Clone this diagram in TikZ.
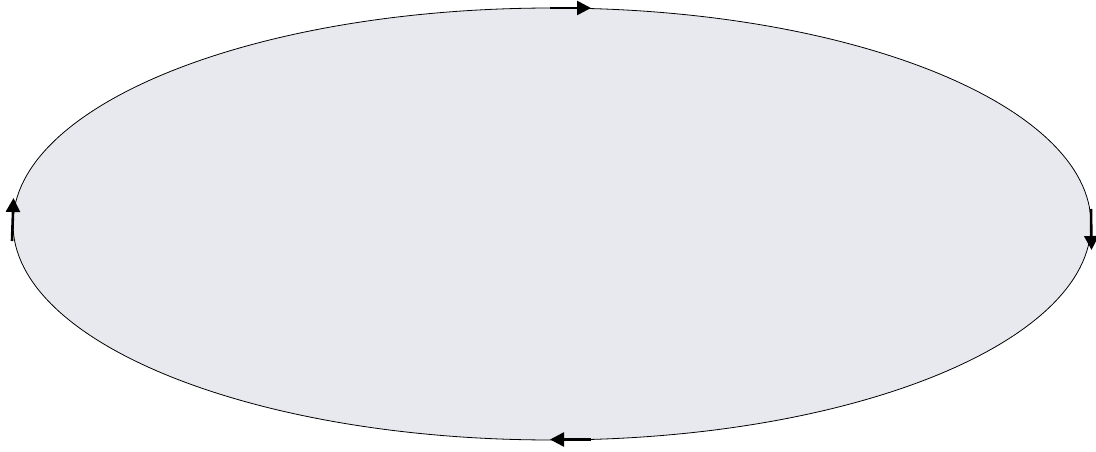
\documentclass[tikz,border=0pt]{standalone}
\usetikzlibrary{arrows.meta}
\definecolor{cyclefill}{RGB}{232,233,238}
\begin{document}
\begin{tikzpicture}[x=1pt,y=-1pt]
\useasboundingbox (0,0) rectangle (1096,452);
\draw[fill=cyclefill,line width=.8pt] (552,224) ellipse [x radius=539,y radius=216];
\tikzset{flow/.style={line width=2.6pt,-{Triangle[length=14pt,width=14pt]}}}
\draw[flow] (550,8)--(591,8);
\draw[flow] (591,439.5)--(550,439.5);
\draw[flow] (12,241)--(13.5,198);
\draw[flow] (1091,209)--(1091.5,250);
\end{tikzpicture}
\end{document}
